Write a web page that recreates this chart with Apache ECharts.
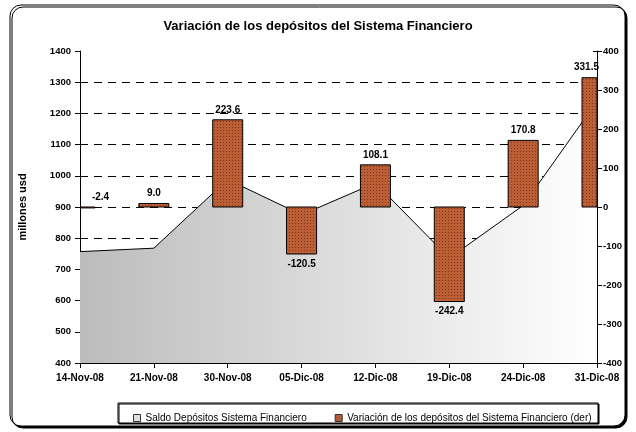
<!DOCTYPE html>
<html>
<head>
<meta charset="utf-8">
<script src="https://cdn.jsdelivr.net/npm/echarts@6/dist/echarts.min.js"></script>
<style>
  html, body { margin: 0; padding: 0; background: #fff; }
  #chart { width: 636px; height: 432px; }
</style>
</head>
<body>
<div id="chart"></div>
<script>
// datos
var fechas = ['14-Nov-08', '21-Nov-08', '30-Nov-08', '05-Dic-08', '12-Dic-08', '19-Dic-08', '24-Dic-08', '31-Dic-08'];
var saldo = [757, 768, 988, 875, 977, 736, 905, 1239];
var variacion = [-2.4, 9.0, 223.6, -120.5, 108.1, -242.4, 170.8, 331.5];
var ticksIzq = [400, 1400, 100];
var ticksDer = [-400, 400, 100];

var fuente = "'Liberation Sans', Arial, sans-serif";

// textura de los rectangulos
var tex = document.createElement('canvas');
tex.width = 3; tex.height = 3;
var ctx = tex.getContext('2d');
ctx.fillStyle = '#bc5f36';
ctx.fillRect(0, 0, 3, 3);
ctx.fillStyle = '#7e3618';
ctx.fillRect(1, 1, 1, 1);
var relleno = { image: tex, repeat: 'repeat' };

var chart = echarts.init(document.getElementById('chart'));

// color de cada linea de division: la de arriba no se ve
var colGrid = [];
for (var i = 0; i < 10; i++) colGrid.push('#000');
colGrid.push('rgba(0,0,0,0)');

// barras recortadas al area del grafico (como en excel)
function dibujaBarra(params, api) {
  var idx = api.value(0), v = api.value(1);
  var base = api.coord([idx, 0]);
  var fin = api.coord([idx, v]);
  var w = 30;
  var cs = params.coordSys;
  var rect = echarts.graphic.clipRectByRect({
    x: base[0] - w / 2,
    y: Math.min(base[1], fin[1]),
    width: w,
    height: Math.max(Math.abs(fin[1] - base[1]), 0.5)
  }, { x: cs.x, y: cs.y, width: cs.width, height: cs.height });
  if (!rect) return;
  var cx = rect.x + rect.width / 2;
  if (idx === 0) cx += 13;
  if (idx === variacion.length - 1) cx -= 3;
  var abajo = v < -5;
  return {
    type: 'group',
    children: [
      {
        type: 'rect',
        shape: rect,
        style: { fill: relleno, stroke: '#000', lineWidth: 1 }
      },
      {
        type: 'text',
        x: cx,
        y: abajo ? rect.y + rect.height + 5 : rect.y - 5,
        style: {
          text: v.toFixed(1),
          fill: '#000',
          font: 'bold 10px ' + fuente,
          align: 'center',
          verticalAlign: abajo ? 'top' : 'bottom'
        }
      }
    ]
  };
}

chart.setOption({
  animation: false,
  textStyle: { fontFamily: fuente },
  graphic: [
    {
      type: 'rect', z: -10, silent: true,
      shape: { x: 10, y: 5, width: 615, height: 421, r: 11 },
      style: { fill: '#fff', stroke: '#000', lineWidth: 1, shadowColor: '#000', shadowOffsetX: 2, shadowOffsetY: 2, shadowBlur: 0 }
    },
    {
      type: 'rect', z: -5, silent: true,
      shape: { x: 118, y: 403, width: 480, height: 20 },
      style: { fill: '#fff', stroke: '#000', lineWidth: 1, shadowColor: '#000', shadowOffsetX: 1, shadowOffsetY: 1, shadowBlur: 0 }
    }
  ],
  title: {
    text: 'Variación de los depósitos del Sistema Financiero',
    left: 'center', top: 15,
    textStyle: { fontSize: 13, fontWeight: 'bold', color: '#000', fontFamily: fuente }
  },
  legend: {
    left: 128, top: 408,
    itemWidth: 7, itemHeight: 7, itemGap: 28,
    icon: 'rect',
    textStyle: { fontSize: 10, color: '#000', fontFamily: fuente },
    data: [
      { name: 'Saldo Depósitos Sistema Financiero', itemStyle: { color: '#e0e0e0', borderColor: '#333', borderWidth: 1 } },
      { name: 'Variación de los depósitos del Sistema Financiero (der)', itemStyle: { color: '#b45a34', borderColor: '#333', borderWidth: 1 } }
    ]
  },
  grid: { left: 80, right: 39, top: 51, bottom: 69 },
  xAxis: {
    type: 'category',
    data: fechas,
    boundaryGap: false,
    axisLine: { onZero: false, lineStyle: { color: '#000', width: 1 } },
    axisTick: { show: true, length: 5, lineStyle: { color: '#000' } },
    axisLabel: { color: '#000', fontSize: 10, fontWeight: 'bold', margin: 10, fontFamily: fuente }
  },
  yAxis: [
    {
      type: 'value',
      min: ticksIzq[0], max: ticksIzq[1], interval: ticksIzq[2],
      name: 'millones usd',
      nameLocation: 'middle', nameGap: 52, nameRotate: 90,
      nameTextStyle: { fontSize: 11, fontWeight: 'bold', color: '#000', fontFamily: fuente },
      axisLine: { show: true, lineStyle: { color: '#000' } },
      axisTick: { show: true, length: 5, lineStyle: { color: '#000' } },
      axisLabel: { color: '#000', fontSize: 9.5, fontWeight: 'bold', margin: 9, fontFamily: fuente, formatter: function (v) { return String(v); } },
      splitLine: { show: true, lineStyle: { color: colGrid, type: [8, 6], width: 1 } }
    },
    {
      type: 'value',
      position: 'right',
      min: ticksDer[0], max: ticksDer[1], interval: ticksDer[2],
      axisLine: { show: true, lineStyle: { color: '#000' } },
      axisTick: { show: true, length: 5, lineStyle: { color: '#000' } },
      axisLabel: { color: '#000', fontSize: 9.5, fontWeight: 'bold', margin: 6, fontFamily: fuente, formatter: function (v) { return String(v); } },
      splitLine: { show: false }
    },
    {
      // marcas hacia dentro del eje derecho
      type: 'value',
      position: 'right',
      offset: 0,
      min: ticksDer[0], max: ticksDer[1], interval: ticksDer[2],
      axisLine: { show: false },
      axisTick: { show: true, inside: true, length: 4, lineStyle: { color: '#000' } },
      axisLabel: { show: false },
      splitLine: { show: false }
    }
  ],
  series: [
    {
      name: 'Saldo Depósitos Sistema Financiero',
      type: 'line',
      yAxisIndex: 0,
      data: saldo,
      symbol: 'none',
      z: 1,
      lineStyle: { color: '#000', width: 1 },
      itemStyle: { color: '#e0e0e0' },
      areaStyle: {
        opacity: 1,
        color: new echarts.graphic.LinearGradient(0, 0, 1, 0, [
          { offset: 0, color: '#bcbcbc' },
          { offset: 1, color: '#ffffff' }
        ])
      }
    },
    {
      name: 'Variación de los depósitos del Sistema Financiero (der)',
      type: 'custom',
      yAxisIndex: 1,
      z: 3,
      renderItem: dibujaBarra,
      itemStyle: { color: '#b45a34' },
      encode: { x: 0, y: 1 },
      data: variacion.map(function (v, i) { return [i, v]; })
    }
  ]
});
</script>
</body>
</html>
